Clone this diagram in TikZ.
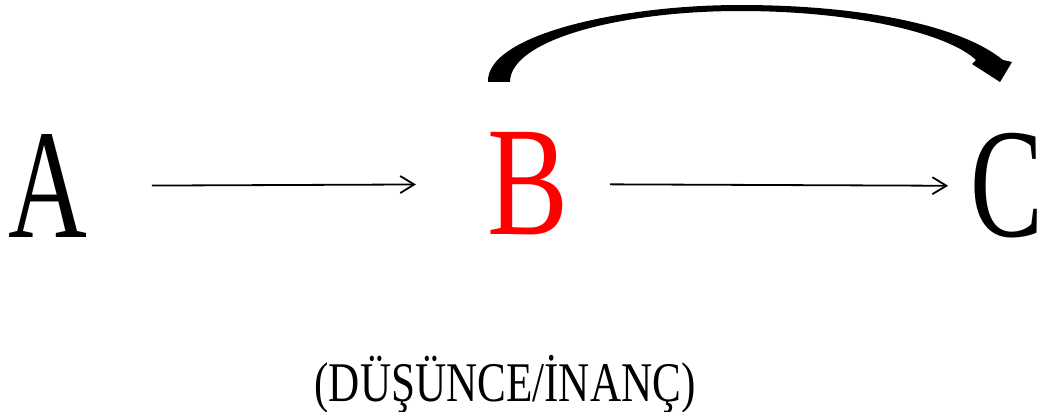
\documentclass[tikz,border=0pt]{standalone}
\usepackage{fontspec}
\setmainfont{Liberation Serif}
\newfontfamily\bigfont[FakeStretch=0.7]{Liberation Serif}
\newfontfamily\bigfontb[FakeStretch=0.78]{Liberation Serif}
\newfontfamily\labfont[FakeStretch=0.77]{Liberation Serif}
\usetikzlibrary{arrows.meta}
\definecolor{bred}{RGB}{255,0,0}
\begin{document}
\begin{tikzpicture}[x=1pt,y=-1pt,
  letter/.style={font=\bigfont\fontsize{156}{156}\selectfont, inner sep=0pt, outer sep=0pt},
  letterb/.style={font=\bigfontb\fontsize{156}{156}\selectfont, inner sep=0pt, outer sep=0pt},
  arr/.style={line width=1.8pt, -{Straight Barb[length=14pt,width=17pt,line width=1.8pt]}},
  bigarrow/.style={fill=black, draw=none}]
\useasboundingbox (0,0) rectangle (1050,412);
\node[letter] (A) at (48,186) {A};
\node[letterb, text=bred] (B) at (528,184) {B};
\node[letter] (C) at (1007,186) {C};
\node[font=\labfont\fontsize{56}{56}\selectfont, inner sep=0pt, anchor=base] (L) at (505,401) {(DÜŞÜNCE/İNANÇ)};
\draw[arr, shorten <=64.5pt, shorten >=71.5pt] (A) -- (B);
\draw[arr, shorten <=41.5pt, shorten >=22.5pt] (B) -- (C);
\coordinate (s) at (499,82);
\coordinate (t) at (1000,82);
\fill[bigarrow] (488,82) .. controls (486,35) and (620,5) .. (740,5)
  .. controls (860,5) and (960,25) .. (1003,60)
  -- (1012,62) -- (t) -- (972,64) -- (976,60)
  .. controls (950,35) and (860,11) .. (740,11)
  .. controls (620,11) and (510,40) .. (510,82) -- cycle;
\end{tikzpicture}
\end{document}
